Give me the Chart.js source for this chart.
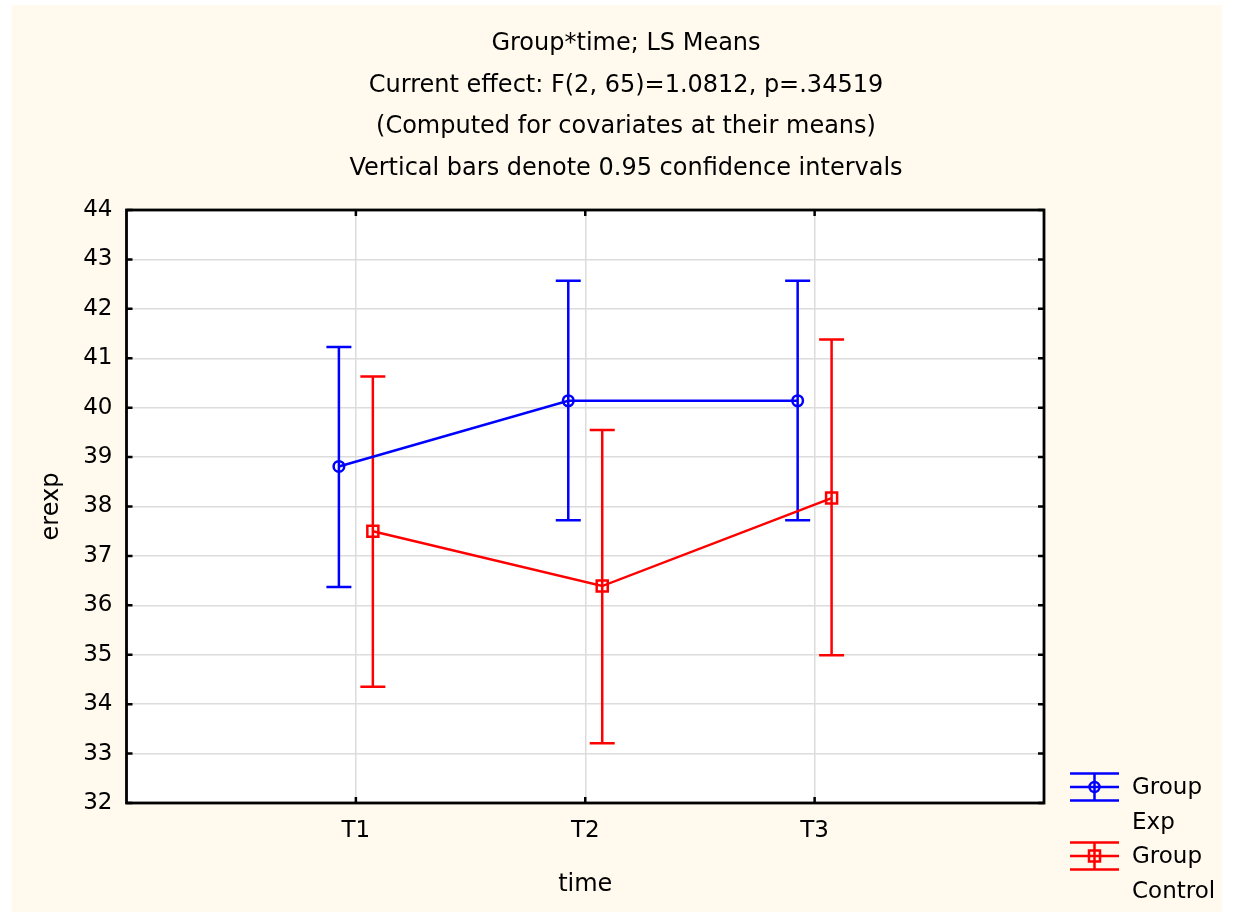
<!DOCTYPE html>
<html>
<head>
<meta charset="utf-8">
<title>Group*time; LS Means</title>
<script src="https://cdn.jsdelivr.net/npm/chart.js@4/dist/chart.umd.min.js"></script>
<style>
  html, body { margin: 0; padding: 0; background: #ffffff; }
  #wrap { width: 1233px; height: 915px; }
</style>
</head>
<body>
<div id="wrap"><canvas id="chart" width="1233" height="915"></canvas></div>
<script>
// Categories and series values (LS means with 0.95 confidence limits)
const timePoints = ['T1', 'T2', 'T3'];
const expMean  = [38.81, 40.14, 40.14];
const expLower = [36.37, 37.72, 37.72];
const expUpper = [41.23, 42.57, 42.57];
const ctrlMean  = [37.50, 36.39, 38.17];
const ctrlLower = [34.35, 33.21, 34.99];
const ctrlUpper = [40.63, 39.55, 41.38];
const yTickValues = [32, 33, 34, 35, 36, 37, 38, 39, 40, 41, 42, 43, 44];
const titleLines = [
  'Group*time; LS Means',
  'Current effect: F(2, 65)=1.0812, p=.34519',
  '(Computed for covariates at their means)',
  'Vertical bars denote 0.95 confidence intervals'
];
const legendItems = [
  { lines: ['Group', 'Exp'], color: '#0000ff', marker: 'circle' },
  { lines: ['Group', 'Control'], color: '#ff0000', marker: 'rect' }
];

const FONT = 'DejaVu Sans';
const GROUP_SHIFT = 0.074;   // horizontal dodge of the two groups around each time point
const CAP_HALF = 12.5;       // half width of the error-bar caps (px)
const LINE_W = 2.5;

function xyPoints(means, shift) {
  return means.map((v, i) => ({ x: i + 1 + shift, y: v }));
}

// page background, cream panel, white plotting area
const backgroundPlugin = {
  id: 'panels',
  beforeDraw(chart) {
    const { ctx, chartArea: a } = chart;
    ctx.save();
    ctx.fillStyle = '#ffffff';
    ctx.fillRect(0, 0, chart.width, chart.height);
    ctx.fillStyle = '#fff9ee';
    ctx.fillRect(12, 5, 1210, 907);
    ctx.fillStyle = '#ffffff';
    ctx.fillRect(a.left, a.top, a.right - a.left, a.bottom - a.top);
    ctx.restore();
  }
};

// vertical confidence-interval bars with caps
const errorBarPlugin = {
  id: 'errorBars',
  beforeDatasetsDraw(chart) {
    const { ctx } = chart;
    const xs = chart.scales.x, ys = chart.scales.y;
    chart.data.datasets.forEach(ds => {
      ctx.save();
      ctx.strokeStyle = ds.borderColor;
      ctx.lineWidth = LINE_W;
      ds.data.forEach((p, i) => {
        const x = xs.getPixelForValue(p.x);
        const yHi = ys.getPixelForValue(ds.errUpper[i]);
        const yLo = ys.getPixelForValue(ds.errLower[i]);
        ctx.beginPath();
        ctx.moveTo(x, yHi); ctx.lineTo(x, yLo);
        ctx.moveTo(x - CAP_HALF, yHi); ctx.lineTo(x + CAP_HALF, yHi);
        ctx.moveTo(x - CAP_HALF, yLo); ctx.lineTo(x + CAP_HALF, yLo);
        ctx.stroke();
      });
      ctx.restore();
    });
  }
};

// frame round the plot with inward tick marks on all four sides
const framePlugin = {
  id: 'frame',
  afterDatasetsDraw(chart) {
    const { ctx, chartArea: a } = chart;
    const xs = chart.scales.x, ys = chart.scales.y;
    const len = 6;
    ctx.save();
    ctx.strokeStyle = '#000000';
    ctx.lineWidth = 2.5;
    ctx.beginPath();
    ys.ticks.forEach(t => {
      const y = ys.getPixelForValue(t.value);
      ctx.moveTo(a.left, y); ctx.lineTo(a.left + len, y);
      ctx.moveTo(a.right, y); ctx.lineTo(a.right - len, y);
    });
    xs.ticks.forEach(t => {
      const x = xs.getPixelForValue(t.value);
      ctx.moveTo(x, a.bottom); ctx.lineTo(x, a.bottom - len);
      ctx.moveTo(x, a.top); ctx.lineTo(x, a.top + len);
    });
    ctx.stroke();
    ctx.lineWidth = 2.8;
    ctx.strokeRect(a.left, a.top, a.right - a.left, a.bottom - a.top);
    ctx.restore();
  }
};

// legend with error-bar glyphs, to the lower right of the plot
const legendPlugin = {
  id: 'groupLegend',
  afterDraw(chart) {
    const { ctx, chartArea: a } = chart;
    const x0 = a.right + 26, x1 = a.right + 75, xm = (x0 + x1) / 2;
    const textX = a.right + 88;
    const startY = a.bottom - 16;
    const itemStep = 69;
    const lineStep = 34.5;
    ctx.save();
    legendItems.forEach((it, k) => {
      const cy = startY + k * itemStep;
      ctx.strokeStyle = it.color;
      ctx.lineWidth = LINE_W;
      ctx.beginPath();
      [-13.5, 0, 13.5].forEach(dy => { ctx.moveTo(x0, cy + dy); ctx.lineTo(x1, cy + dy); });
      ctx.moveTo(xm, cy - 13.5); ctx.lineTo(xm, cy + 13.5);
      ctx.stroke();
      ctx.beginPath();
      if (it.marker === 'circle') {
        ctx.arc(xm, cy, 5, 0, Math.PI * 2);
      } else {
        ctx.rect(xm - 5.5, cy - 5.5, 11, 11);
      }
      ctx.stroke();
      ctx.fillStyle = '#000000';
      ctx.font = '23px "' + FONT + '"';
      ctx.textAlign = 'left';
      ctx.textBaseline = 'middle';
      it.lines.forEach((t, j) => ctx.fillText(t, textX, cy + 1.5 + j * lineStep));
    });
    ctx.restore();
  }
};

const tickFont = { family: FONT, size: 23 };

new Chart(document.getElementById('chart'), {
  type: 'line',
  data: {
    datasets: [
      {
        label: 'Group Exp',
        data: xyPoints(expMean, -GROUP_SHIFT),
        errLower: expLower,
        errUpper: expUpper,
        borderColor: '#0000ff',
        borderWidth: LINE_W,
        pointStyle: 'circle',
        pointRadius: 5.3,
        pointBorderWidth: LINE_W,
        pointBorderColor: '#0000ff',
        pointBackgroundColor: 'rgba(0,0,0,0)',
        tension: 0
      },
      {
        label: 'Group Control',
        data: xyPoints(ctrlMean, GROUP_SHIFT),
        errLower: ctrlLower,
        errUpper: ctrlUpper,
        borderColor: '#ff0000',
        borderWidth: LINE_W,
        pointStyle: 'rect',
        pointRadius: 7.8,
        pointBorderWidth: LINE_W,
        pointBorderColor: '#ff0000',
        pointBackgroundColor: 'rgba(0,0,0,0)',
        tension: 0
      }
    ]
  },
  options: {
    responsive: false,
    animation: false,
    devicePixelRatio: 1,
    layout: { padding: { left: 19, right: 0, top: 0, bottom: 0 } },
    plugins: {
      legend: { display: false },
      tooltip: { enabled: false },
      title: {
        display: true,
        text: titleLines,
        color: '#000000',
        font: { family: FONT, size: 24, weight: 'normal', lineHeight: 1.7375 },
        padding: { top: 23, bottom: 20.2 }
      }
    },
    scales: {
      x: {
        type: 'linear',
        min: 0,
        max: timePoints.length + 1,
        afterBuildTicks: s => { s.ticks = timePoints.map((_, i) => ({ value: i + 1 })); },
        afterFit: s => { s.height = 112; },
        ticks: {
          callback: v => timePoints[v - 1] ?? '',
          color: '#000000',
          font: tickFont,
          padding: 14,
          maxRotation: 0,
          autoSkip: false
        },
        grid: { color: '#dcdcdc', lineWidth: 1.5, drawTicks: false },
        border: { display: false },
        title: {
          display: true,
          text: 'time',
          color: '#000000',
          font: { family: FONT, size: 24 },
          padding: { top: 0, bottom: 16 }
        }
      },
      y: {
        min: 32,
        max: 44,
        afterBuildTicks: s => { s.ticks = yTickValues.map(v => ({ value: v })); },
        afterFit: s => { s.width = 107.5; },
        ticks: { color: '#000000', font: tickFont, padding: 14 },
        grid: { color: '#dcdcdc', lineWidth: 1.5, drawTicks: false },
        border: { display: false },
        title: {
          display: true,
          text: 'erexp',
          color: '#000000',
          font: { family: FONT, size: 24 },
          padding: { top: 18.6, bottom: 0 }
        }
      },
      legendSpace: {
        position: 'right',
        afterFit: s => { s.width = 189; },
        ticks: { display: false },
        grid: { display: false },
        border: { display: false }
      }
    }
  },
  plugins: [backgroundPlugin, errorBarPlugin, framePlugin, legendPlugin]
});
</script>
</body>
</html>
